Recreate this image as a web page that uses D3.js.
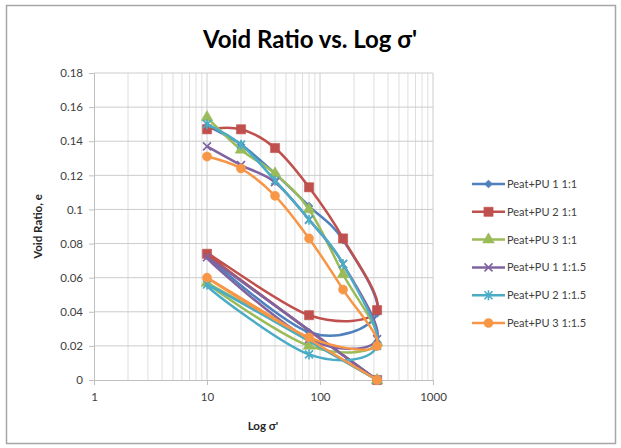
<!DOCTYPE html>
<html>
<head>
<meta charset="utf-8">
<script src="https://cdn.jsdelivr.net/npm/d3@7"></script>
<style>
  html, body { margin: 0; padding: 0; background: #fff; }
  svg { display: block; }
</style>
</head>
<body>
<svg id="chart" width="621" height="448"></svg>
<script>
// Effective stress steps: loading 10 -> 320, unloading 320 -> 80 -> 10, closing point
const sigma = [10, 20, 40, 80, 160, 320, 80, 10, 320];

const seriesNames = [
  "Peat+PU 1 1:1",
  "Peat+PU 2 1:1",
  "Peat+PU 3 1:1",
  "Peat+PU 1 1:1.5",
  "Peat+PU 2 1:1.5",
  "Peat+PU 3 1:1.5"
];

const pu1_11  = [0.149, 0.138, 0.121, 0.102, 0.082, 0.039, 0.028, 0.073, 0];
const pu2_11  = [0.147, 0.147, 0.136, 0.113, 0.083, 0.041, 0.038, 0.074, 0];
const pu3_11  = [0.154, 0.135, 0.121, 0.100, 0.062, 0.022, 0.020, 0.057, 0];
const pu1_115 = [0.137, 0.126, 0.116, 0.094, 0.068, 0.024, 0.024, 0.072, 0];
const pu2_115 = [0.150, 0.138, 0.117, 0.094, 0.068, 0.020, 0.015, 0.056, 0];
const pu3_115 = [0.131, 0.124, 0.108, 0.083, 0.053, 0.020, 0.025, 0.060, 0];

const seriesValues = [pu1_11, pu2_11, pu3_11, pu1_115, pu2_115, pu3_115];
const colors  = ["#4F81BD", "#C0504D", "#9BBB59", "#8064A2", "#4BACC6", "#F79646"];
const markers = ["diamond", "square", "triangle", "x", "star", "circle"];

const yTicks = [0, 0.02, 0.04, 0.06, 0.08, 0.1, 0.12, 0.14, 0.16, 0.18];
const xTicks = [1, 10, 100, 1000];

const title = "Void Ratio vs. Log \u03c3'";
const xTitle = "Log \u03c3'";
const yTitle = "Void Ratio, e";

const svg = d3.select("#chart");
const font = "Lato, 'Open Sans', sans-serif";

// chart area frame
svg.append("rect")
  .attr("x", 6.5).attr("y", 5.5)
  .attr("width", 609).attr("height", 438)
  .attr("fill", "#fff")
  .attr("stroke", "#a6a6a6")
  .attr("stroke-width", 1.5);

const plot = { left: 94, right: 433, top: 73, bottom: 380 };

const x = d3.scaleLog().domain([1, 1000]).range([plot.left, plot.right]);
const y = d3.scaleLinear().domain([0, 0.18]).range([plot.bottom, plot.top]);

// minor vertical gridlines (2..9 in each decade)
const minor = [];
for (let d = 1; d < 1000; d *= 10) {
  for (let k = 2; k <= 9; k++) minor.push(d * k);
}
svg.append("g").selectAll("line").data(minor).join("line")
  .attr("x1", d => x(d)).attr("x2", d => x(d))
  .attr("y1", plot.top).attr("y2", plot.bottom)
  .attr("stroke", "#dedede").attr("stroke-width", 1);

// major vertical gridlines
svg.append("g").selectAll("line").data(xTicks.slice(1)).join("line")
  .attr("x1", d => x(d)).attr("x2", d => x(d))
  .attr("y1", plot.top).attr("y2", plot.bottom)
  .attr("stroke", "#cccccc").attr("stroke-width", 1);

// horizontal gridlines
svg.append("g").selectAll("line").data(yTicks.slice(1)).join("line")
  .attr("x1", plot.left).attr("x2", plot.right)
  .attr("y1", d => y(d)).attr("y2", d => y(d))
  .attr("stroke", "#cccccc").attr("stroke-width", 1);

// y axis
const yAxis = d3.axisLeft(y).tickValues(yTicks).tickSize(5).tickPadding(6)
  .tickFormat(d => d3.format("")(+d.toFixed(2)));
const gy = svg.append("g").attr("transform", `translate(${plot.left},0)`).call(yAxis);
gy.select(".domain").attr("stroke", "#bfbfbf");
gy.selectAll(".tick line").attr("stroke", "#bfbfbf");
gy.selectAll(".tick text").attr("fill", "#404040")
  .style("font-family", font).style("font-size", "11.5px");

// x axis
const xAxis = d3.axisBottom(x).tickValues(xTicks).tickSize(5).tickPadding(8)
  .tickFormat(d3.format("d"));
const gx = svg.append("g").attr("transform", `translate(0,${plot.bottom})`).call(xAxis);
gx.select(".domain").attr("stroke", "#bfbfbf");
gx.selectAll(".tick line").attr("stroke", "#bfbfbf");
gx.selectAll(".tick text").attr("fill", "#404040")
  .style("font-family", font).style("font-size", "11.5px");

// titles
svg.append("text")
  .attr("x", 310).attr("y", 48)
  .attr("text-anchor", "middle")
  .style("font-family", font).style("font-weight", "bold").style("font-size", "24px")
  .attr("fill", "#000")
  .text(title);

svg.append("text")
  .attr("x", 263).attr("y", 430)
  .attr("text-anchor", "middle")
  .style("font-family", font).style("font-weight", "bold").style("font-size", "11.5px")
  .attr("fill", "#262626")
  .text(xTitle);

svg.append("text")
  .attr("transform", `translate(42,${(plot.top + plot.bottom) / 2}) rotate(-90)`)
  .attr("text-anchor", "middle")
  .style("font-family", font).style("font-weight", "bold").style("font-size", "11.5px")
  .attr("fill", "#262626")
  .text(yTitle);

// marker shapes
function markerPath(type) {
  switch (type) {
    case "diamond": return d3.symbol(d3.symbolSquare, 32)();
    case "square": return d3.symbol(d3.symbolSquare, 85)();
    case "triangle": return d3.symbol(d3.symbolTriangle, 60)();
    case "circle": return d3.symbol(d3.symbolCircle, 66)();
    case "x": return "M-4,-4L4,4M-4,4L4,-4";
    case "star": return "M-4,-4L4,4M-4,4L4,-4M0,-5L0,5";
  }
}
function markerTransform(type, px, py) {
  return type === "diamond" ? `translate(${px},${py}) rotate(45)` : `translate(${px},${py})`;
}
function drawMarker(g, type, color, px, py) {
  const p = g.append("path")
    .attr("d", markerPath(type))
    .attr("transform", markerTransform(type, px, py));
  if (type === "x" || type === "star") {
    p.attr("fill", "none").attr("stroke", color).attr("stroke-width", 1.6);
  } else {
    p.attr("fill", color).attr("stroke", color).attr("stroke-width", 0.5);
  }
}

const line = d3.line()
  .x(d => x(d[0]))
  .y(d => y(d[1]))
  .curve(d3.curveCardinal.tension(0));

const gSeries = svg.append("g");
seriesValues.forEach((vals, i) => {
  const pts = sigma.map((s, j) => [s, vals[j]]);
  const g = gSeries.append("g");
  g.append("path")
    .attr("d", line(pts))
    .attr("fill", "none")
    .attr("stroke", colors[i])
    .attr("stroke-width", 2.5)
    .attr("stroke-linejoin", "round");
  pts.forEach(p => drawMarker(g, markers[i], colors[i], x(p[0]), y(p[1])));
});

// legend
const legend = svg.append("g");
seriesNames.forEach((name, i) => {
  const ly = 184 + i * 27.8;
  legend.append("line")
    .attr("x1", 472).attr("x2", 505)
    .attr("y1", ly).attr("y2", ly)
    .attr("stroke", colors[i]).attr("stroke-width", 2.5);
  drawMarker(legend, markers[i], colors[i], 488.5, ly);
  legend.append("text")
    .attr("x", 507).attr("y", ly + 4)
    .style("font-family", font).style("font-size", "11px")
    .attr("fill", "#404040")
    .text(name);
});
</script>
</body>
</html>
